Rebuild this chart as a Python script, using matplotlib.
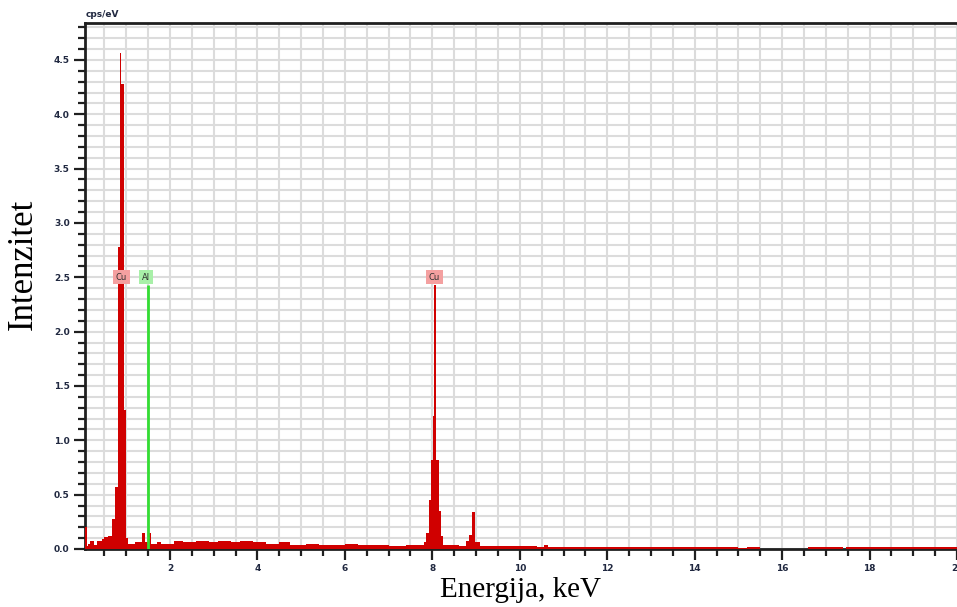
import numpy as np
import matplotlib.pyplot as plt
from matplotlib.ticker import MultipleLocator, FormatStrFormatter

"Spectrum data: step edges (keV) and intensity (cps/eV)"
edges = [0.05, 0.09, 0.12, 0.18, 0.27, 0.33, 0.45, 0.50, 0.58, 0.67,
         0.73, 0.82, 0.86, 0.88, 0.94, 0.99, 1.04, 1.20, 1.36, 1.42,
         1.50, 1.56, 1.70, 1.80, 2.10, 2.30, 2.60, 2.90, 3.10, 3.40,
         3.60, 3.90, 4.20, 4.50, 4.75, 5.10, 5.40, 5.70, 6.00, 6.30,
         6.60, 7.00, 7.40, 7.80, 7.86, 7.92, 7.97, 8.01, 8.045, 8.085,
         8.15, 8.20, 8.24, 8.60, 8.76, 8.83, 8.90, 8.98, 9.09, 9.60,
         10.40, 10.55, 10.65, 11.50, 12.50, 13.00, 13.50, 14.00, 14.60, 15.00,
         15.20, 15.50, 16.50, 16.60, 17.40, 17.45, 20.0]
counts = [0.20, 0.03, 0.05, 0.07, 0.04, 0.07, 0.09, 0.11, 0.12, 0.28,
          0.57, 2.78, 4.56, 4.28, 1.28, 0.10, 0.05, 0.06, 0.15, 0.06,
          0.15, 0.05, 0.06, 0.05, 0.07, 0.06, 0.07, 0.06, 0.07, 0.06,
          0.07, 0.06, 0.05, 0.06, 0.04, 0.05, 0.04, 0.04, 0.05, 0.04,
          0.035, 0.03, 0.035, 0.06, 0.15, 0.45, 0.82, 1.22, 2.43, 0.82,
          0.35, 0.12, 0.04, 0.03, 0.07, 0.13, 0.34, 0.06, 0.03, 0.025,
          0.02, 0.035, 0.02, 0.02, 0.015, 0.02, 0.015, 0.02, 0.015, 0.012,
          0.015, 0.0, 0.0, 0.02, 0.0, 0.02]

al_energy = 1.487
al_height = 2.43

labels = ['Cu', 'Al', 'Cu']
label_x = [0.89, 1.45, 8.05]
label_colors = ['#f4a0a0', '#a8f0a8', '#f4a0a0']
label_y = 2.50

"Figure"
fig = plt.figure(figsize=(9.57, 6.07), dpi=100)
ax = fig.add_axes([85/957, 1-549/607, 872/957, (549-23)/607])

ax.set_xlim(0.055, 20.0)
ax.set_ylim(0, 4.84)

"Grid"
ax.xaxis.set_major_locator(MultipleLocator(2))
ax.xaxis.set_minor_locator(MultipleLocator(0.5))
ax.yaxis.set_major_locator(MultipleLocator(0.5))
ax.yaxis.set_minor_locator(MultipleLocator(0.1))
ax.yaxis.set_major_formatter(FormatStrFormatter('%.1f'))
ax.grid(True, which='both', color='#dcdcdc', linewidth=1.5)
ax.set_axisbelow(True)

"Spectrum"
ax.stairs(counts, edges, fill=True, color='#d00000', zorder=3)
ax.vlines(al_energy, 0, al_height, color='#33dd33', linewidth=2, zorder=4)

"Element labels"
for lab, x, c in zip(labels, label_x, label_colors):
    ax.text(x, label_y, lab, fontsize=6, ha='center', va='center', color='#303030',
            zorder=5, bbox=dict(boxstyle='square,pad=0.3', fc=c, ec='none'))

"Axis style"
for side in ['left', 'bottom', 'top']:
    ax.spines[side].set_linewidth(2)
    ax.spines[side].set_color('#202020')
ax.spines['right'].set_visible(False)
ax.tick_params(which='major', direction='out', length=8, width=1.6, color='#202020',
               labelsize=6.5, labelcolor='#202840', pad=3)
ax.tick_params(which='minor', direction='out', length=5, width=1.6, color='#202020')
for lbl in ax.get_xticklabels() + ax.get_yticklabels():
    lbl.set_fontweight('bold')

ax.text(0.07, 4.88, 'cps/eV', fontsize=6.5, color='#202840', fontweight='bold',
        ha='left', va='bottom')

"Axis titles"
fig.text(520/957, 1-590/607, 'Energija, keV', fontsize=21, family='Liberation Serif',
         ha='center', va='center')
fig.text(23/957, 1-264/607, 'Intenzitet', fontsize=25, family='Liberation Serif',
         rotation=90, ha='center', va='center')

plt.savefig('out.png', dpi=100)
